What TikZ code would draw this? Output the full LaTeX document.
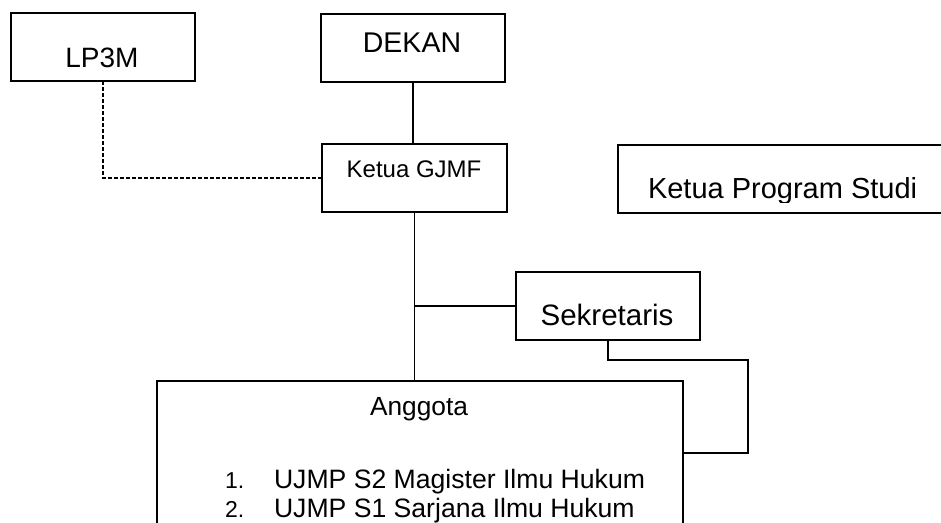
\documentclass[tikz,border=0pt]{standalone}
\usepackage{fontspec}
\setmainfont{Liberation Sans}
\begin{document}
\begin{tikzpicture}[x=1pt,y=-1pt,
  box/.style={draw=black,line width=1.3pt,inner sep=0pt,outer sep=0pt},
  txt/.style={inner sep=0pt,outer sep=0pt,font=\fontsize{#1}{#1}\selectfont},
  conn/.style={draw=black,line width=1.3pt},
  dashconn/.style={conn,dash pattern=on 4pt off 2pt}]
\useasboundingbox (0,0) rectangle (941,522);
\clip (0,0) rectangle (941,522);
% boxes
\node[box,minimum width=184pt,minimum height=68pt] (lp) at (103,47) {};
\node[box,minimum width=184pt,minimum height=68pt] (dekan) at (413,48) {};
\node[box,minimum width=185pt,minimum height=68pt] (gjmf) at (414.5,178) {};
\node[box,minimum width=382pt,minimum height=68pt] (kps) at (809,179) {};
\node[box,minimum width=184pt,minimum height=68pt] (sek) at (608,306) {};
\node[box,minimum width=526pt,minimum height=220pt] (ang) at (420,491) {};
% texts
\node[txt=28,anchor=base] (tlp) at (102,67) {LP3M};
\node[txt=28.5,anchor=base] (tdk) at (412,52) {DEKAN};
\node[txt=24,anchor=base] (tgj) at (414,177) {Ketua GJMF};
\begin{scope}
  \clip (600,140) rectangle (941,202.5);
  \node[txt=29,anchor=base west] (tkps) at (648,198) {Ketua Program Studi};
\end{scope}
\node[txt=29.5,anchor=base] (tsek) at (607,325) {Sekretaris};
\node[txt=26.3,anchor=base] (tang) at (419,415) {Anggota};
\node[txt=23,anchor=base west] (n1) at (225,488) {1.};
\node[txt=26.6,anchor=base west] (i1) at (274,488) {UJMP S2 Magister Ilmu Hukum};
\node[txt=23,anchor=base west] (n2) at (225,517) {2.};
\node[txt=26.6,anchor=base west] (i2) at (274,517) {UJMP S1 Sarjana Ilmu Hukum};
% connectors
\coordinate (c1) at (748,360);
\coordinate (c2) at (748,453);
\draw[conn] (dekan.south) -- (dekan.south |- gjmf.north);
\draw[dashconn] (lp.south) |- (gjmf.west);
\draw[conn] (gjmf.south) -- (gjmf.south |- ang.north);
\draw[conn] (sek.west) -- (sek.west -| gjmf.south);
\draw[conn] (sek.south) |- (c1) -- (c2) -- (c2 -| ang.east);
\end{tikzpicture}
\end{document}
